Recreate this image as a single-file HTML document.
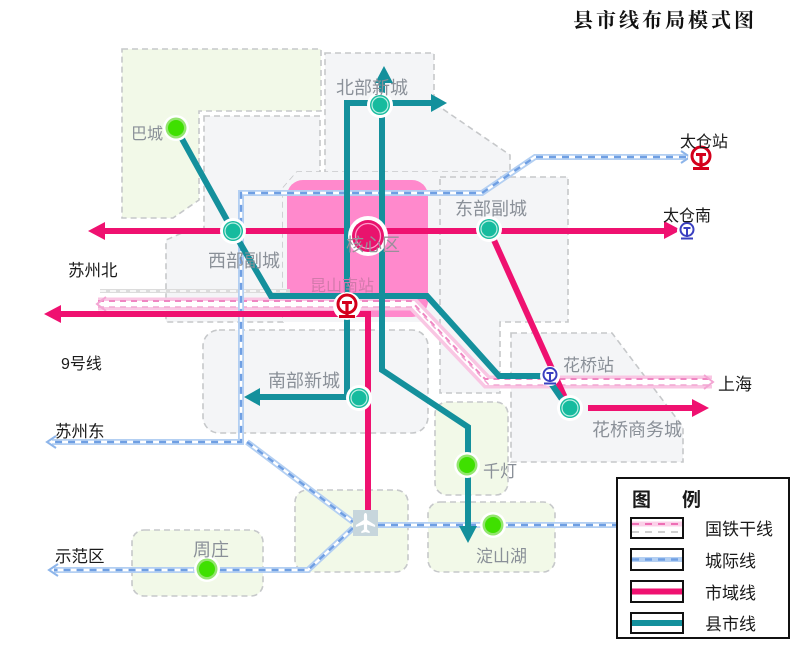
<!DOCTYPE html>
<html><head><meta charset="utf-8"><style>
html,body{margin:0;padding:0;background:#fff;}
svg{display:block;}
.g{font-family:"Liberation Sans","Noto Sans CJK SC",sans-serif;fill:#8a9098;}
.b{font-family:"Liberation Sans","Noto Sans CJK SC",sans-serif;fill:#1a1a1a;}
</style></head><body>
<svg width="800" height="671" viewBox="0 0 800 671" xmlns="http://www.w3.org/2000/svg">
<rect width="800" height="671" fill="#fff"/>
<!-- title -->
<text x="573" y="27" style="font-family:'Liberation Serif','Noto Serif CJK SC',serif;font-weight:bold;font-size:20px;letter-spacing:3px;fill:#111">县市线布局模式图</text>

<!-- regions -->
<g stroke="#c6c8ca" stroke-width="1.6" stroke-dasharray="6 4">
<path d="M122,49 H321 V111 H199 V200 L173,218 H122 Z" fill="#f2f9e8"/>
<path d="M325,53 H434 V103 L510,155 V172 H325 Z" fill="#f4f5f7"/>
<path d="M204,116 H320 V172 H297 L283,188 V322 H166 V240 L182,233 H204 Z" fill="#f4f5f7"/>
<path d="M297,172 H510 V177 H440 V322 H283 V188 Z" fill="#f4f5f7" stroke="none"/>
<path d="M440,177 H568 V322 H500 V393 H440 Z" fill="#f4f5f7"/>
<path d="M511,333 H612 L683,427 V462 H511 Z" fill="#f4f5f7"/>
<rect x="203" y="330" width="225" height="103" rx="16" fill="#f4f5f7"/>
<rect x="435" y="402" width="73" height="93" rx="12" fill="#f2f9e8"/>
<rect x="428" y="502" width="127" height="70" rx="12" fill="#f2f9e8"/>
<rect x="295" y="490" width="113" height="82" rx="12" fill="#f2f9e8"/>
<rect x="132" y="530" width="131" height="66" rx="12" fill="#f2f9e8"/>
</g>

<!-- core -->
<rect x="287" y="180" width="141" height="137" rx="16" fill="#ff89cc"/>

<!-- national rail -->
<path d="M100,291 H290" fill="none" stroke="#dcdcdc" stroke-width="4"/>
<path d="M100,291 H290" fill="none" stroke="#fff" stroke-width="1.5" stroke-dasharray="6 4"/>
<path d="M98,304 H413 L487,382 H712" fill="none" stroke="#f9c6e3" stroke-width="13"/>
<path d="M98,304 H413 L487,382 H712" fill="none" stroke="#fff" stroke-width="6"/>
<path d="M98,301 H411 L485,379 H712" fill="none" stroke="#ef86c2" stroke-width="2" stroke-dasharray="6 5"/>
<path d="M98,307 H415 L489,385 H712" fill="none" stroke="#f2a6d2" stroke-width="1.5" stroke-dasharray="6 5"/>
<path d="M106,297 L97,304 L106,311" fill="none" stroke="#f3a5d3" stroke-width="2"/>
<path d="M704,375 L713,382 L704,389" fill="none" stroke="#f3a5d3" stroke-width="2"/>

<!-- intercity -->
<g fill="none">
<path d="M686,157 H535 L482,193 H241 V442 H52 M247,442 L353,522 M378,525 H617 M353,528 L308,570 H54" stroke="#b3cff2" stroke-width="6"/>
<path d="M686,157 H535 L482,193 H241 V442 H52 M247,442 L353,522 M378,525 H617 M353,528 L308,570 H54" stroke="#fff" stroke-width="2.4"/>
<path d="M686,157 H535 L482,193 H241 V442 H52 M247,442 L353,522 M378,525 H617 M353,528 L308,570 H54" stroke="#6f9fe3" stroke-width="2.4" stroke-dasharray="7 6"/>
<path d="M681,151 L690,157 L681,163" stroke="#8db5ea" stroke-width="2"/>
<path d="M56,436 L47,442 L56,448" stroke="#8db5ea" stroke-width="2"/>
<path d="M58,564 L49,570 L58,576" stroke="#8db5ea" stroke-width="2"/>
</g>

<!-- pink lines -->
<g fill="none" stroke="#ef1170" stroke-width="6">
<path d="M102,231 H666"/>
<path d="M58,314 H368 V512"/>
<path d="M489,229 L566,400"/>
<path d="M588,408 H694"/>
</g>
<g fill="#ef1170">
<polygon points="88,231 105,222 105,240"/>
<polygon points="44,314 61,305 61,323"/>
<polygon points="681,230 664,221 664,239"/>
<polygon points="709,408 692,399 692,417"/>
</g>

<!-- teal lines -->
<g fill="none" stroke="#14909c" stroke-width="6" stroke-linejoin="miter">
<path d="M176,128 L233,231 L271,296 H427 L499,376 H546 L568,408"/>
<path d="M259,397 H347 V103 H433"/>
<path d="M382,82 V370 L468,427 V527"/>
</g>
<g fill="#14909c">
<polygon points="447,103 431,94 431,112"/>
<polygon points="384,66 375,83 393,83"/>
<polygon points="244,397 260,388 260,406"/>
<polygon points="468,543 459,526 477,526"/>
</g>

<!-- airport -->
<rect x="353" y="510" width="25" height="26" fill="#c7d6dc"/>
<path d="M365.5,513 c1.4,0 1.6,2 1.6,3 v4 l8,5 v2 l-8,-2.5 v5 l2.6,2 v1.6 l-4.2,-1 l-4.2,1 v-1.6 l2.6,-2 v-5 l-8,2.5 v-2 l8,-5 v-4 c0,-1 0.2,-3 1.6,-3 z" fill="#fff"/>

<!-- teal nodes -->
<g>
<circle cx="380" cy="105" r="13" fill="#fff"/><circle cx="380" cy="105" r="10" fill="#16bb9e"/><circle cx="380" cy="105" r="8" fill="none" stroke="#bff0e5" stroke-width="1.2"/>
<circle cx="233" cy="231" r="13" fill="#fff"/><circle cx="233" cy="231" r="10" fill="#16bb9e"/><circle cx="233" cy="231" r="8" fill="none" stroke="#bff0e5" stroke-width="1.2"/>
<circle cx="489" cy="229" r="13" fill="#fff"/><circle cx="489" cy="229" r="10" fill="#16bb9e"/><circle cx="489" cy="229" r="8" fill="none" stroke="#bff0e5" stroke-width="1.2"/>
<circle cx="359" cy="398" r="13" fill="#fff"/><circle cx="359" cy="398" r="10" fill="#16bb9e"/><circle cx="359" cy="398" r="8" fill="none" stroke="#bff0e5" stroke-width="1.2"/>
<circle cx="570" cy="408" r="13" fill="#fff"/><circle cx="570" cy="408" r="10" fill="#16bb9e"/><circle cx="570" cy="408" r="8" fill="none" stroke="#bff0e5" stroke-width="1.2"/>
</g>
<!-- green nodes -->
<g>
<circle cx="176" cy="128" r="13" fill="#fff"/><circle cx="176" cy="128" r="10.5" fill="#93e56e"/><circle cx="176" cy="128" r="8" fill="#3fe000"/>
<circle cx="467" cy="465" r="13" fill="#fff"/><circle cx="467" cy="465" r="10.5" fill="#93e56e"/><circle cx="467" cy="465" r="8" fill="#3fe000"/>
<circle cx="493" cy="525" r="13" fill="#fff"/><circle cx="493" cy="525" r="10.5" fill="#93e56e"/><circle cx="493" cy="525" r="8" fill="#3fe000"/>
<circle cx="207" cy="569" r="13" fill="#fff"/><circle cx="207" cy="569" r="10.5" fill="#93e56e"/><circle cx="207" cy="569" r="8" fill="#3fe000"/>
</g>
<!-- core node -->
<circle cx="368" cy="236" r="20" fill="#fff"/>
<circle cx="368" cy="236" r="16" fill="#e9136d"/>
<circle cx="368" cy="236" r="12.5" fill="none" stroke="#ff9ccc" stroke-width="1.3"/>

<!-- station icons -->
<g transform="translate(347,306)">
<circle r="14" fill="#fff"/>
<circle cy="-2" r="9" fill="none" stroke="#d4001c" stroke-width="3"/>
<rect x="-5" y="-5" width="10" height="3" fill="#d4001c"/>
<rect x="-1.6" y="-4" width="3.2" height="13" fill="#d4001c"/>
<rect x="-8" y="9" width="16" height="3" fill="#d4001c"/>
</g>
<g transform="translate(701,158)">
<circle r="13" fill="#fff"/>
<circle cy="-2" r="9" fill="none" stroke="#d4001c" stroke-width="3"/>
<rect x="-5" y="-5" width="10" height="3" fill="#d4001c"/>
<rect x="-1.6" y="-4" width="3.2" height="13" fill="#d4001c"/>
<rect x="-8" y="9" width="16" height="3" fill="#d4001c"/>
</g>
<g transform="translate(687,231)">
<circle r="10" fill="#fff"/>
<circle cy="-1.5" r="6.5" fill="none" stroke="#3a3fc0" stroke-width="2"/>
<rect x="-3.5" y="-4" width="7" height="2" fill="#3a3fc0"/>
<rect x="-1" y="-3" width="2" height="9" fill="#3a3fc0"/>
<rect x="-6" y="6.5" width="12" height="2" fill="#3a3fc0"/>
</g>
<g transform="translate(550,376)">
<circle r="10" fill="#fff"/>
<circle cy="-1.5" r="6.5" fill="none" stroke="#3a3fc0" stroke-width="2"/>
<rect x="-3.5" y="-4" width="7" height="2" fill="#3a3fc0"/>
<rect x="-1" y="-3" width="2" height="9" fill="#3a3fc0"/>
<rect x="-6" y="6.5" width="12" height="2" fill="#3a3fc0"/>
</g>

<!-- gray labels -->
<text class="g" x="336" y="94" font-size="18">北部新城</text>
<text class="g" x="131" y="139" font-size="16">巴城</text>
<text class="g" x="208" y="267" font-size="18">西部副城</text>
<text class="g" x="455" y="215" font-size="18">东部副城</text>
<text class="g" x="346" y="251" font-size="18" style="fill:#9a8f9a">核心区</text>
<text class="g" x="310" y="291" font-size="16" style="fill:#d279ab">昆山南站</text>
<text class="g" x="268" y="387" font-size="18">南部新城</text>
<text class="g" x="563" y="371" font-size="17">花桥站</text>
<text class="g" x="592" y="436" font-size="18">花桥商务城</text>
<text class="g" x="483" y="477" font-size="17">千灯</text>
<text class="g" x="476" y="562" font-size="17">淀山湖</text>
<text class="g" x="193" y="556" font-size="18">周庄</text>

<!-- black labels -->
<text class="b" x="680" y="147" font-size="16">太仓站</text>
<text class="b" x="663" y="221" font-size="16">太仓南</text>
<text class="b" x="68" y="276" font-size="16.5">苏州北</text>
<text class="b" x="61" y="369" font-size="16">9号线</text>
<text class="b" x="55" y="437" font-size="16.5">苏州东</text>
<text class="b" x="55" y="562" font-size="16.5">示范区</text>
<text class="b" x="718" y="390" font-size="17">上海</text>

<!-- legend -->
<rect x="617" y="478" width="172" height="160" fill="#fff" stroke="#111" stroke-width="2"/>
<text class="b" x="632" y="506" font-size="19" font-weight="bold">图</text>
<text class="b" x="682" y="506" font-size="19" font-weight="bold">例</text>
<rect x="631" y="518" width="52" height="20" fill="#fff" stroke="#111" stroke-width="2"/>
<line x1="632" y1="524" x2="682" y2="524" stroke="#fbd0e8" stroke-width="5"/>
<line x1="632" y1="524" x2="682" y2="524" stroke="#ee6fb5" stroke-width="2" stroke-dasharray="7 6"/>
<line x1="632" y1="532" x2="682" y2="532" stroke="#cfcfcf" stroke-width="2" stroke-dasharray="7 6"/>
<rect x="631" y="549" width="52" height="21" fill="#fff" stroke="#111" stroke-width="2"/>
<line x1="632" y1="559.5" x2="682" y2="559.5" stroke="#b3cff2" stroke-width="5"/>
<line x1="632" y1="559.5" x2="682" y2="559.5" stroke="#6f9fe3" stroke-width="2.4" stroke-dasharray="7 6"/>
<rect x="631" y="581" width="52" height="21" fill="#fff" stroke="#111" stroke-width="2"/>
<line x1="632" y1="591.5" x2="682" y2="591.5" stroke="#ef1170" stroke-width="6"/>
<rect x="631" y="613" width="52" height="20" fill="#fff" stroke="#111" stroke-width="2"/>
<line x1="632" y1="623" x2="682" y2="623" stroke="#14909c" stroke-width="6"/>
<text class="b" x="705" y="535" font-size="17">国铁干线</text>
<text class="b" x="705" y="567" font-size="17">城际线</text>
<text class="b" x="705" y="599" font-size="17">市域线</text>
<text class="b" x="705" y="630" font-size="17">县市线</text>
</svg>
</body></html>
